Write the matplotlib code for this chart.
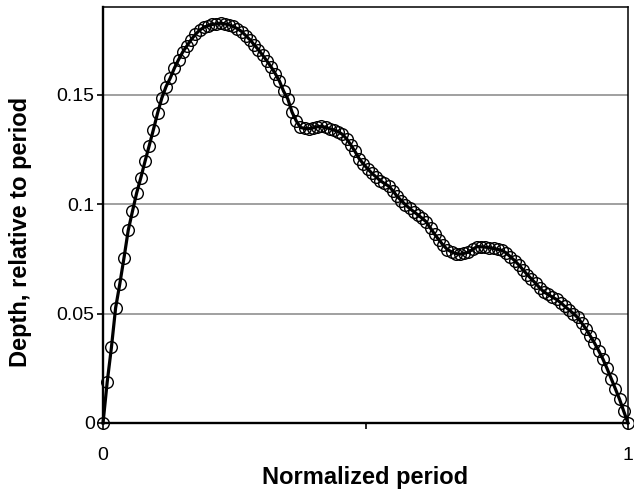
import numpy as np
import matplotlib
matplotlib.use("Agg")
import matplotlib.pyplot as plt

plt.rcParams['font.family'] = ['Liberation Sans', 'DejaVu Sans']

# depth profile, sampled on a uniform grid over one period
depth = [
    0.0000, 0.0188, 0.0345, 0.0526, 0.0636, 0.0755, 0.0880, 0.0966, 0.1050, 0.1120,
    0.1195, 0.1267, 0.1340, 0.1416, 0.1484, 0.1536, 0.1575, 0.1621, 0.1660, 0.1695,
    0.1723, 0.1751, 0.1775, 0.1794, 0.1807, 0.1815, 0.1820, 0.1823, 0.1826, 0.1823,
    0.1819, 0.1811, 0.1801, 0.1788, 0.1769, 0.1750, 0.1727, 0.1705, 0.1680, 0.1654,
    0.1627, 0.1596, 0.1562, 0.1515, 0.1480, 0.1420, 0.1380, 0.1350, 0.1345, 0.1344,
    0.1348, 0.1353, 0.1355, 0.1350, 0.1344, 0.1338, 0.1331, 0.1318, 0.1298, 0.1270,
    0.1240, 0.1207, 0.1183, 0.1161, 0.1141, 0.1124, 0.1107, 0.1094, 0.1082, 0.1061,
    0.1036, 0.1016, 0.0997, 0.0980, 0.0965, 0.0950, 0.0935, 0.0918, 0.0889, 0.0861,
    0.0836, 0.0812, 0.0792, 0.0781, 0.0774, 0.0771, 0.0775, 0.0780, 0.0793, 0.0805,
    0.0805, 0.0803, 0.0801, 0.0797, 0.0793, 0.0788, 0.0777, 0.0759, 0.0742, 0.0722,
    0.0700, 0.0678, 0.0658, 0.0638, 0.0617, 0.0598, 0.0587, 0.0575, 0.0564, 0.0549,
    0.0532, 0.0516, 0.0500, 0.0482, 0.0456, 0.0430, 0.0398, 0.0366, 0.0331, 0.0293,
    0.0250, 0.0203, 0.0156, 0.0108, 0.0053, 0.0000,
]
period = np.linspace(0, 1, len(depth))

yticks = [0, 0.05, 0.1, 0.15]
ytick_labels = ['0', '0.05', '0.1', '0.15']
xticks = [0, 0.5, 1]
xtick_labels = ['0', '', '1']

fig = plt.figure(figsize=(6.34, 4.95), dpi=100)
ax = fig.add_axes([0.1625, 0.1455, 0.828, 0.8404])

ax.plot(period, depth, color='black', lw=2.3, marker='o', ms=8.4,
        mfc='none', mec='black', mew=1.0, clip_on=False, zorder=3)

ax.set_xlim(0, 1)
ax.set_ylim(0, 0.19)
ax.set_yticks(yticks)
ax.set_yticklabels(ytick_labels)
ax.set_xticks(xticks)
ax.set_xticklabels(xtick_labels)

ax.yaxis.grid(True, color='#999999', lw=1.3)
ax.set_axisbelow(True)

for s in ['top', 'right']:
    ax.spines[s].set_linewidth(1.1)
for s in ['left', 'bottom']:
    ax.spines[s].set_linewidth(1.7)

ax.tick_params(axis='y', direction='out', length=4, width=1.2, labelsize=14, pad=2)
ax.tick_params(axis='x', direction='out', length=4, width=1.2, labelsize=14, pad=13)

ax.set_xlabel('Normalized period', fontsize=17, fontweight='bold', va='center')
ax.set_ylabel('Depth, relative to period', fontsize=17, fontweight='bold', va='center')
ax.xaxis.set_label_coords(0.5, -0.132)
ax.yaxis.set_label_coords(-0.158, 0.46)

fig.savefig('out.png', dpi=100)
